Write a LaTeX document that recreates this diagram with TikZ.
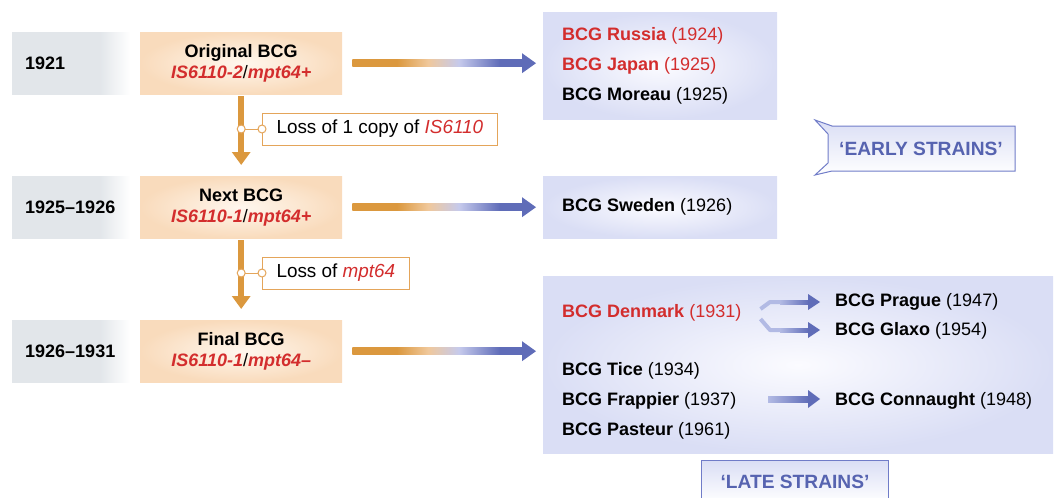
\documentclass[tikz,border=0pt]{standalone}
\usepackage{fontspec}
\setmainfont{Liberation Sans}
\usetikzlibrary{calc,shadings,arrows.meta}
\definecolor{bcgred}{RGB}{211,45,45}
\definecolor{arrorange}{RGB}{219,152,62}
\definecolor{arrblue}{RGB}{95,108,184}
\definecolor{lightblue}{RGB}{178,186,228}
\definecolor{yeargray}{RGB}{226,230,234}
\definecolor{peach}{RGB}{249,219,188}
\definecolor{peachc}{RGB}{255,247,238}
\definecolor{midpeach}{RGB}{240,200,155}
\definecolor{midlav}{RGB}{198,202,236}
\definecolor{lav}{RGB}{218,222,245}
\definecolor{lavc}{RGB}{251,251,255}
\definecolor{calltext}{RGB}{86,99,176}
\definecolor{callborder}{RGB}{112,124,200}
\definecolor{boxorange}{RGB}{228,165,90}
\pgfdeclarehorizontalshading{yearshade}{100bp}{color(0bp)=(yeargray); color(25bp)=(yeargray); color(62bp)=(yeargray); color(75bp)=(white); color(100bp)=(white)}
\pgfdeclarehorizontalshading{arrshade}{100bp}{color(0bp)=(arrorange); color(25bp)=(arrorange); color(38bp)=(arrorange); color(47bp)=(midpeach); color(56bp)=(midlav); color(68bp)=(arrblue); color(100bp)=(arrblue)}
\pgfdeclarehorizontalshading{forkshade}{100bp}{color(0bp)=(lightblue); color(25bp)=(lightblue); color(75bp)=(arrblue); color(100bp)=(arrblue)}
\newcommand{\gene}[1]{\textcolor{bcgred}{\bfseries\itshape #1}}
\begin{document}
\begin{tikzpicture}[x=1pt,y=-1pt,font=\fontsize{18}{21}\selectfont,
  yearbox/.style={shade,shading=yearshade,anchor=north west,minimum width=118pt,minimum height=62pt,inner xsep=13pt,inner ysep=0pt,text width=92pt,align=left,font=\fontsize{18}{21}\selectfont\bfseries},
  genebox/.style={inner color=peachc,outer color=peach,anchor=north west,minimum width=202pt,minimum height=62pt,inner sep=0pt,align=center,font=\fontsize{18}{21}\selectfont\bfseries},
  strainbox/.style={inner color=lavc,outer color=lav,anchor=north west,inner sep=0pt},
  strain/.style={anchor=west,inner sep=0pt},
  lossbox/.style={draw=boxorange,line width=1pt,fill=white,anchor=west,minimum height=32pt,inner xsep=14pt,inner ysep=0pt,font=\fontsize{18.9}{21}\selectfont},
  dot/.style={circle,draw=boxorange,line width=1pt,fill=white,inner sep=0pt,minimum size=8pt},
  varrow/.style={arrorange,line width=6pt,-{Triangle[width=18pt,length=13pt]}},
  callbox/.style={top color=lav,bottom color=white,draw=callborder,line width=1pt},
  calltxt/.style={text=calltext,font=\fontsize{19.2}{21}\selectfont\bfseries}
]
\path[use as bounding box,clip] (0,0) rectangle (1055,498);

% left column
\node[yearbox] (y1) at (12,32) {1921};
\node[yearbox] (y2) at (12,176) {1925\textendash1926};
\node[yearbox] (y3) at (12,320) {1926\textendash1931};
\node[genebox] (o1) at (140,32) {Original BCG\\\gene{IS6110-2}{\mdseries/}\gene{mpt64+}};
\node[genebox] (o2) at (140,176) {Next BCG\\\gene{IS6110-1}{\mdseries/}\gene{mpt64+}};
\node[genebox] (o3) at (140,320) {Final BCG\\\gene{IS6110-1}{\mdseries/}\gene{mpt64\textendash}};

% right boxes
\node[strainbox,minimum width=234pt,minimum height=107pt] (e1) at (543,12) {};
\node[strainbox,minimum width=234pt,minimum height=62pt] (e2) at (543,176) {};
\node[strainbox,minimum width=510pt,minimum height=177pt] (lt) at (543,276) {};

% strains
\node[strain,text=bcgred] (rus) at (562,36) {\textbf{BCG Russia} (1924)};
\node[strain,text=bcgred] (jap) at (562,66) {\textbf{BCG Japan} (1925)};
\node[strain] (mor) at (562,96) {\textbf{BCG Moreau} (1925)};
\node[strain] (swe) at (562,207) {\textbf{BCG Sweden} (1926)};
\node[strain,text=bcgred] (den) at (562,313) {\textbf{BCG Denmark} (1931)};
\node[strain] (pra) at (835,302) {\textbf{BCG Prague} (1947)};
\node[strain] (gla) at (835,331) {\textbf{BCG Glaxo} (1954)};
\node[strain] (tic) at (562,371) {\textbf{BCG Tice} (1934)};
\node[strain] (fra) at (562,401) {\textbf{BCG Frappier} (1937)};
\node[strain] (pas) at (562,431) {\textbf{BCG Pasteur} (1961)};
\node[strain] (con) at (835,401) {\textbf{BCG Connaught} (1948)};

% horizontal arrows
\foreach \o/\e in {o1/e1,o2/e2,o3/lt}{
  \shade[shading=arrshade] ($(\o.east)+(10,-3.5)$) rectangle ($(\o.east -| \e.west)+(-19,3.5)$);
  \fill[arrblue] ($(\o.east -| \e.west)+(-21,-10)$) -- ($(\o.east -| \e.west)+(-21,10)$) -- ($(\o.east -| \e.west)+(-7,0)$) -- cycle;
}

% vertical arrows
\draw[varrow] ($(o1.south)+(0,2)$) -- ($(o2.north)+(0,-11)$);
\draw[varrow] ($(o2.south)+(0,2)$) -- ($(o3.north)+(0,-11)$);

% loss labels
\node[lossbox] (l1) at (262,129) {Loss of 1 copy of \textcolor{bcgred}{\itshape IS6110}};
\node[lossbox] (l2) at (262,273) {Loss of \textcolor{bcgred}{\itshape mpt64}};
\coordinate (c1) at (l1.west -| o1.south);
\coordinate (c2) at (l2.west -| o2.south);
\draw[boxorange,line width=1pt] (c1) -- (l1.west);
\draw[boxorange,line width=1pt] (c2) -- (l2.west);
\node[dot] at (c1) {};
\node[dot] at (l1.west) {};
\node[dot] at (c2) {};
\node[dot] at (l2.west) {};

% fork arrows (Denmark)
\coordinate (t1) at ($(pra.west)+(-15,0)$);
\coordinate (t2) at ($(gla.west)+(-15,-1)$);
\draw[lightblue,line width=4pt,line join=round] ($(den.east)+(19,-4)$) -- ($(t1)+(-50,0)$) -- ($(t1)+(-38,0)$);
\draw[lightblue,line width=4pt,line join=round] ($(den.east)+(19,6)$) -- ($(t2)+(-50,0)$) -- ($(t2)+(-38,0)$);
\shade[shading=forkshade] ($(t1)+(-40,-2)$) rectangle ($(t1)+(-11,2)$);
\shade[shading=forkshade] ($(t2)+(-40,-2)$) rectangle ($(t2)+(-11,2)$);
\fill[arrblue] ($(t1)+(-12,-8)$) -- ($(t1)+(-12,8)$) -- (t1) -- cycle;
\fill[arrblue] ($(t2)+(-12,-8)$) -- ($(t2)+(-12,8)$) -- (t2) -- cycle;

% Frappier -> Connaught
\coordinate (t3) at ($(con.west)+(-15,-2)$);
\shade[shading=forkshade] ($(t3)+(-52,-3)$) rectangle ($(t3)+(-11,3)$);
\fill[arrblue] ($(t3)+(-12,-9)$) -- ($(t3)+(-12,9)$) -- (t3) -- cycle;

% callouts
\shade[callbox] (815,120) -- (832,126) -- (1015,126) -- (1015,171) -- (832,171) -- (815,175) -- (828,163) -- (828,134) -- cycle;
\node[calltxt] (early) at (921,149) {\textquoteleft EARLY STRAINS\textquoteright};
\node[callbox,calltxt,anchor=north west,minimum width=187pt,minimum height=42pt,inner sep=0pt] (late) at (701,460) {\textquoteleft LATE STRAINS\textquoteright};
\end{tikzpicture}
\end{document}
